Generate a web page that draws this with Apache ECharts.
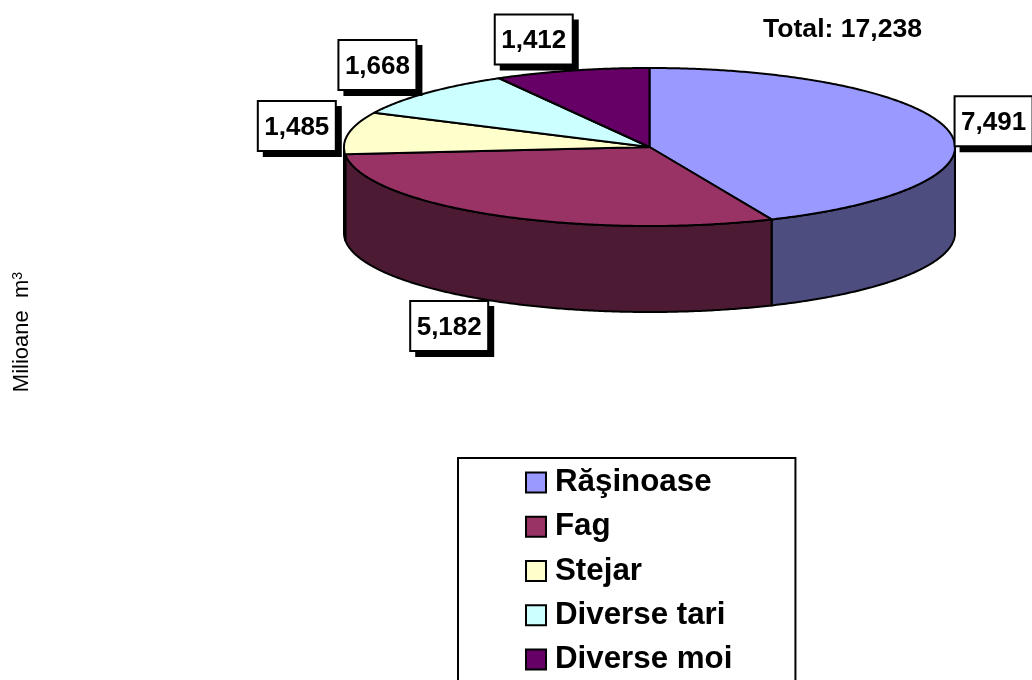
<!DOCTYPE html>
<html>
<head>
<meta charset="utf-8">
<style>
  html, body { margin: 0; padding: 0; background: #fff; }
  #chart { width: 1032px; height: 680px; }
</style>
<script src="https://cdn.jsdelivr.net/npm/echarts@6/dist/echarts.min.js"></script>
</head>
<body>
<div id="chart"></div>
<script>
const categories = ['Răşinoase', 'Fag', 'Stejar', 'Diverse tari', 'Diverse moi']
const values = [7491, 5182, 1485, 1668, 1412]
const topColors = ['#9999FF', '#993366', '#FFFFCC', '#CCFFFF', '#660066']
const wallColors = ['#4D4D80', '#4D1A33', '#808066', '#668080', '#330033']
// label box centre, relative to the rim point at the middle of each slice
const labelOffsets = [[45, -9.5], [-45, 111], [-52, -7], [-49, -28], [-38, -31]]

const total = values.reduce((a, b) => a + b, 0)
const fontFamily = '"Liberation Sans", Arial, sans-serif'

const cx = 649.5
const cy = 147
const rx = 305.5
const ry = 79
const depth = 86

const rim = (deg, drop = 0) => {
  const r = (deg * Math.PI) / 180
  return [cx + rx * Math.sin(r), cy - ry * Math.cos(r) + drop]
}

const arc = (from, to, drop = 0) => {
  const pts = []
  const steps = Math.max(2, Math.ceil(Math.abs(to - from) * 2))
  for (let i = 0; i <= steps; i++) {
    pts.push(rim(from + ((to - from) * i) / steps, drop))
  }
  return pts
}

const fmt = (v) => v.toLocaleString('en-US')

function renderSlice(params, api) {
  const i = params.seriesIndex
  const start = (api.value(0) / total) * 360
  const value = api.value(1)
  const end = start + (value / total) * 360
  const mid = (start + end) / 2
  const children = []

  // only the front half of the wall shows
  const wallFrom = Math.max(start, 90)
  const wallTo = Math.min(end, 270)
  if (wallTo > wallFrom) {
    children.push({
      type: 'polygon',
      z2: 1,
      shape: { points: arc(wallFrom, wallTo).concat(arc(wallTo, wallFrom, depth)) },
      style: { fill: wallColors[i], stroke: '#000', lineWidth: 2, lineJoin: 'round' },
    })
  }

  children.push({
    type: 'polygon',
    z2: 2,
    shape: { points: [[cx, cy]].concat(arc(start, end)) },
    style: { fill: topColors[i], stroke: '#000', lineWidth: 2, lineJoin: 'round' },
  })

  const anchor = rim(mid)
  const lx = anchor[0] + labelOffsets[i][0]
  const ly = anchor[1] + labelOffsets[i][1]
  children.push(
    {
      type: 'rect',
      z2: 10,
      shape: { x: lx - 34, y: ly - 20, width: 79, height: 51 },
      style: { fill: '#000' },
    },
    {
      type: 'rect',
      z2: 11,
      shape: { x: lx - 39, y: ly - 25, width: 78, height: 50 },
      style: { fill: '#fff', stroke: '#000', lineWidth: 2 },
    },
    {
      type: 'text',
      z2: 12,
      style: {
        x: lx,
        y: ly + 1.5,
        text: fmt(value),
        fill: '#000',
        font: 'bold 26px ' + fontFamily,
        textAlign: 'center',
        textVerticalAlign: 'middle',
      },
    }
  )

  return { type: 'group', children }
}

let running = 0
const series = categories.map((name, i) => {
  const item = [running, values[i]]
  running += values[i]
  return {
    type: 'custom',
    name,
    coordinateSystem: 'none',
    animation: false,
    silent: true,
    itemStyle: { color: topColors[i] },
    renderItem: renderSlice,
    data: [item],
  }
})

const chart = echarts.init(document.getElementById('chart'))

chart.setOption({
  animation: false,
  backgroundColor: '#fff',
  title: {
    text: 'Total: ' + fmt(total),
    left: 763,
    top: 16,
    padding: 0,
    textStyle: { fontFamily, fontSize: 26.6, fontWeight: 'bold', color: '#000' },
  },
  legend: {
    orient: 'vertical',
    left: 458,
    top: 458,
    height: 300,
    padding: [9, 63, 40, 67],
    icon: 'rect',
    itemWidth: 20,
    itemHeight: 20,
    itemGap: 13.25,
    selectedMode: false,
    borderColor: '#000',
    borderWidth: 2,
    itemStyle: { borderColor: '#000', borderWidth: 2 },
    textStyle: { fontFamily, fontSize: 31.3, fontWeight: 'bold', color: '#000', padding: [0, 0, 0, 4] },
    data: categories,
  },
  graphic: [
    {
      type: 'text',
      x: 22,
      y: 332,
      rotation: Math.PI / 2,
      style: {
        text: '{a|Milioane  m}{s|3}',
        fill: '#000',
        font: '22px ' + fontFamily,
        textAlign: 'center',
        textVerticalAlign: 'middle',
        rich: {
          a: { font: '22px ' + fontFamily, fill: '#000', verticalAlign: 'bottom' },
          s: { font: '14px ' + fontFamily, fill: '#000', verticalAlign: 'top' },
        },
      },
    },
  ],
  series,
})
</script>
</body>
</html>
